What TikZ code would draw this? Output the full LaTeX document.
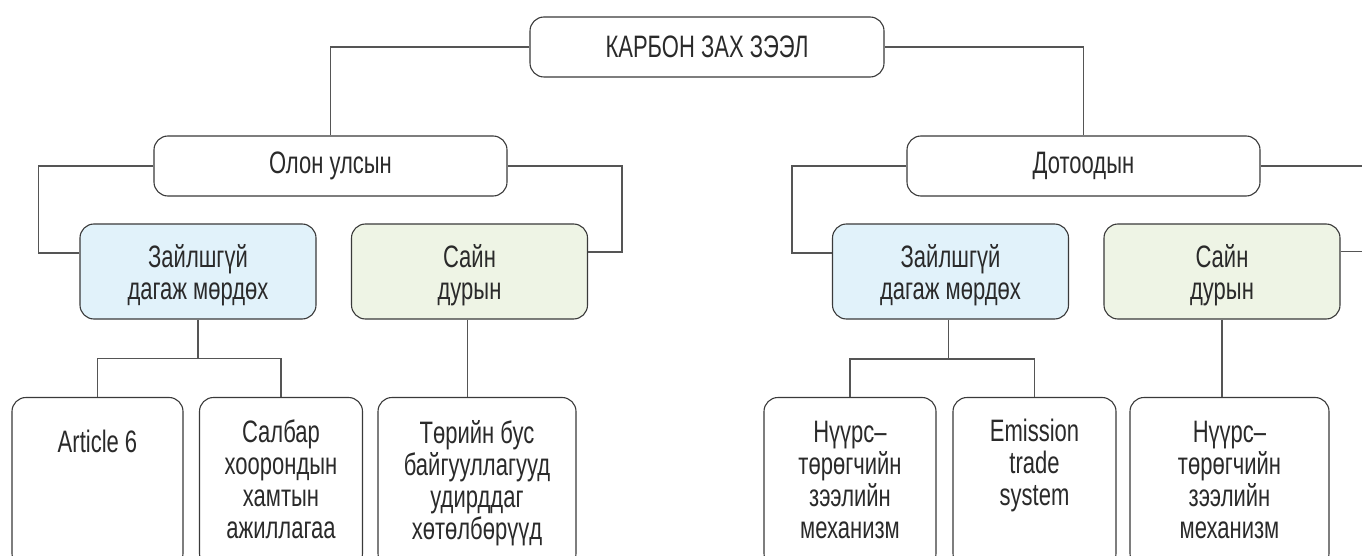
\documentclass[tikz,border=0pt]{standalone}
\usepackage{fontspec}
\setmainfont{Liberation Sans}[FakeStretch=0.71]
\definecolor{boxc}{HTML}{3A3A3A}
\definecolor{linec}{HTML}{555555}
\definecolor{txtc}{HTML}{2A2A2A}
\definecolor{bluef}{HTML}{E1F2FA}
\definecolor{greenf}{HTML}{EEF4E5}
\newcommand\dgfont{\fontsize{31}{32}\selectfont}
\begin{document}
\begin{tikzpicture}[x=1pt,y=-1pt,
  box/.style={draw=boxc, line width=1.1pt, rounded corners=14pt, inner sep=0pt,
    align=center, font=\dgfont, text=txtc},
  topbox/.style={box, minimum height=60pt},
  midbox/.style={box, minimum width=236pt, minimum height=95pt},
  leaf/.style={box, minimum height=170pt},
  txt/.style={inner sep=0pt, align=center, font=\dgfont, text=txtc, anchor=north},
  midtxt/.style={inner sep=0pt, align=center, font=\dgfont, text=txtc},
  conn/.style={draw=linec, line width=1.3pt}]
\path[use as bounding box, clip] (0,0) rectangle (1362,556);
\fill[white] (0,0) rectangle (1362,556);

% level 0
\node[topbox, minimum width=354pt] (top) at (707,47) {КАРБОН ЗАХ ЗЭЭЛ};
% level 1
\node[topbox, minimum width=353pt] (olon) at (330.5,166) {Олон улсын};
\node[topbox, minimum width=353pt] (dot) at (1083.5,166) {Дотоодын};
% level 2
\node[midbox, fill=bluef] (zl) at (198,271.5) {};
\node[midbox, fill=greenf] (sl) at (469.5,271.5) {};
\node[midbox, fill=bluef] (zr) at (950.5,271.5) {};
\node[midbox, fill=greenf] (sr) at (1222,271.5) {};
\node[midtxt] (zlt) at ([yshift=-4pt]zl.center) {Зайлшгүй\\дагаж мөрдөх};
\node[midtxt] (slt) at ([yshift=-4pt]sl.center) {Сайн\\дурын};
\node[midtxt] (zrt) at ([yshift=-4pt]zr.center) {Зайлшгүй\\дагаж мөрдөх};
\node[midtxt] (srt) at ([yshift=-4pt]sr.center) {Сайн\\дурын};
% leaves
\node[leaf, minimum width=171pt] (a6) at (97.5,482.5) {};
\node[leaf, minimum width=163pt] (sb) at (281,482.5) {};
\node[leaf, minimum width=198pt] (tb) at (477,482.5) {};
\node[leaf, minimum width=172pt] (n1) at (850,482.5) {};
\node[leaf, minimum width=163pt] (em) at (1034.5,482.5) {};
\node[leaf, minimum width=199pt] (n2) at (1229.5,482.5) {};

\node[txt] (a6t) at ([yshift=-33pt]a6.north) {Article 6};
\node[txt] (sbt) at ([yshift=-23pt]sb.north) {Салбар\\хоорондын\\хамтын\\ажиллагаа};
\node[txt] (tbt) at ([yshift=-23pt]tb.north) {Төрийн бус\\байгууллагууд\\удирддаг\\хөтөлбөрүүд};
\node[txt] (n1t) at ([yshift=-24pt]n1.north) {Нүүрс–\\төрөгчийн\\зээлийн\\механизм};
\node[txt] (emt) at ([yshift=-22pt]em.north) {Emission\\trade\\system};
\node[txt] (n2t) at ([yshift=-24pt]n2.north) {Нүүрс–\\төрөгчийн\\зээлийн\\механизм};

% helper coordinates
\coordinate (edgeR) at (1362,0);
\coordinate (forkL) at (0,358.5);
\coordinate (forkR) at (0,359);

% connectors
\draw[conn] (top.west) -| (olon.north);
\draw[conn] (top.east) -| (dot.north);
\draw[conn] (olon.west) -| ([xshift=-41pt,yshift=18.5pt]zl.west) -- ([yshift=18.5pt]zl.west);
\draw[conn] (olon.east) -| ([xshift=34pt,yshift=19.5pt]sl.east) -- ([yshift=19.5pt]sl.east);
\draw[conn] (dot.west) -| ([xshift=-40pt,yshift=18.5pt]zr.west) -- ([yshift=18.5pt]zr.west);
\draw[conn] (dot.east) -- (dot.east -| edgeR);
\draw[conn] ([yshift=20pt]sr.east) -- ([yshift=20pt]sr.east -| edgeR);

\draw[conn] (zl.south) -- (zl.south |- forkL);
\draw[conn] (a6.north) -- (a6.north |- forkL) -- (sb.north |- forkL) -- (sb.north);
\draw[conn] ([xshift=-2pt]sl.south) -- ([xshift=-2pt]sl.south |- tb.north);

\draw[conn] ([xshift=-2pt]zr.south) -- ([xshift=-2pt]zr.south |- forkR);
\draw[conn] (n1.north) -- (n1.north |- forkR) -- (em.north |- forkR) -- (em.north);
\draw[conn] (sr.south) -- (sr.south |- n2.north);
\end{tikzpicture}
\end{document}
